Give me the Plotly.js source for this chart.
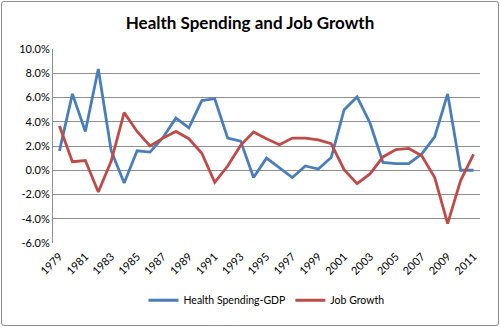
<!DOCTYPE html>
<html>
<head>
<meta charset="utf-8">
<script src="https://cdn.plot.ly/plotly-3.0.1.min.js"></script>
<style>
html,body{margin:0;padding:0;background:#fff;}
#wrap{position:relative;width:500px;height:327px;}
#chart{width:500px;height:327px;}
#frame{position:absolute;left:1px;top:1px;width:496px;height:323px;border:1px solid #8c8c8c;border-radius:3px;pointer-events:none;}
</style>
</head>
<body>
<div id="wrap"><div id="chart"></div><div id="frame"></div></div>
<script>
const years = [1979,1980,1981,1982,1983,1984,1985,1986,1987,1988,1989,1990,1991,1992,1993,1994,1995,1996,1997,1998,1999,2000,2001,2002,2003,2004,2005,2006,2007,2008,2009,2010,2011];
const healthSpendingGDP = [1.6,6.3,3.2,8.35,1.6,-1.05,1.6,1.5,2.7,4.3,3.5,5.75,5.9,2.65,2.4,-0.6,1.0,0.2,-0.6,0.35,0.1,1.05,5.0,6.05,3.9,0.65,0.55,0.55,1.35,2.75,6.3,0.0,0.0];
const jobGrowth = [3.65,0.7,0.8,-1.8,0.75,4.75,3.2,2.0,2.65,3.2,2.6,1.4,-1.0,0.35,2.05,3.15,2.6,2.1,2.65,2.65,2.5,2.2,0.05,-1.1,-0.3,1.1,1.7,1.8,1.2,-0.6,-4.4,-0.85,1.3];
const tickYears = [1979,1981,1983,1985,1987,1989,1991,1993,1995,1997,1999,2001,2003,2005,2007,2009,2011];
const yTicks = [-6,-4,-2,0,2,4,6,8,10];
const seriesNames = ['Health Spending-GDP','Job Growth'];

const font = 'Lato, "Open Sans", sans-serif';
const traces = [
  {x: years, y: healthSpendingGDP, name: seriesNames[0], type: 'scatter', mode: 'lines',
   line: {color: '#4a7ebb', width: 2.8}},
  {x: years, y: jobGrowth, name: seriesNames[1], type: 'scatter', mode: 'lines',
   line: {color: '#be4b48', width: 2.8}}
];
const layout = {
  width: 500, height: 327,
  margin: {l: 53, r: 20, t: 49, b: 80},
  paper_bgcolor: '#fff', plot_bgcolor: '#fff',
  title: {text: '<b>Health Spending and Job Growth</b>', x: 0.5, xanchor: 'center', y: 0.93, yanchor: 'middle',
          font: {family: font, size: 17, color: '#000'}},
  xaxis: {range: [1978.5, 2011.5], tickmode: 'array', tickvals: tickYears, ticktext: tickYears.map(String),
          tickangle: -45, showgrid: false, zeroline: false, showline: false, automargin: false,
          ticklabelstandoff: 4,
          tickfont: {family: font, size: 11, color: '#000'}, ticks: ''},
  yaxis: {range: [-6, 10], tickmode: 'array', tickvals: yTicks, ticktext: yTicks.map(v => v.toFixed(1) + '%'),
          showgrid: true, gridcolor: '#8f8f8f', gridwidth: 1, zeroline: false, automargin: false,
          showline: true, linecolor: '#8f8f8f', linewidth: 1,
          tickfont: {family: font, size: 11, color: '#000'}, ticks: ''},
  showlegend: true,
  legend: {orientation: 'h', x: 0.5, xanchor: 'center', y: -0.295, yanchor: 'middle',
           font: {family: font, size: 10.5, color: '#000'}, itemwidth: 30, tracegroupgap: 0}
};
Plotly.newPlot('chart', traces, layout, {displayModeBar: false, staticPlot: true});
</script>
</body>
</html>
